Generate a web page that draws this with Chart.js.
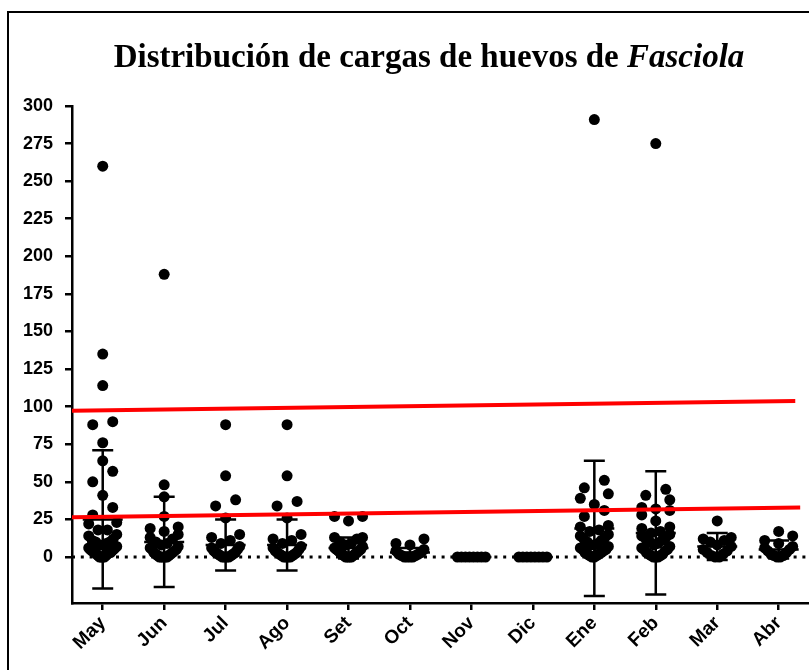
<!DOCTYPE html>
<html>
<head>
<meta charset="utf-8">
<script src="https://cdn.jsdelivr.net/npm/chart.js@4.4.0/dist/chart.umd.min.js"></script>
<style>
html, body { margin: 0; padding: 0; background: #fff; }
#wrap { position: relative; width: 809px; height: 670px; overflow: hidden; }
#frame { position: absolute; left: 7px; top: 11px; width: 860px; height: 700px; border: 2px solid #000; box-sizing: border-box; }
#title { position: absolute; left: 8px; width: 842px; top: 39px; text-align: center; font: bold 33px 'Liberation Serif', 'Times New Roman', serif; line-height: 34px; color: #000; }
canvas { position: absolute; left: 0; top: 0; }
</style>
</head>
<body>
<div id="wrap">
  <div id="frame"></div>
  <canvas id="c" width="816" height="670"></canvas>
  <div id="title">Distribución de cargas de huevos de <i>Fasciola</i></div>
</div>
<script>
// categories + values
const months = ['May', 'Jun', 'Jul', 'Ago', 'Set', 'Oct', 'Nov', 'Dic', 'Ene', 'Feb', 'Mar', 'Abr'];
const vMay = [260, 135, 114, 90, 88, 76, 64, 57, 50, 41, 33, 28, 23, 22, 18, 18, 15, 14, 12, 11, 10, 10, 9, 8, 8, 7, 6, 6, 5, 5, 4, 4, 4, 3, 3, 3, 2, 2, 1, 1, 0, 0, 0, 0];
const vJun = [188, 48, 40, 27, 20, 19, 17, 15, 13, 12, 10, 9, 8, 7, 6, 5, 5, 4, 3, 3, 2, 2, 1, 1, 0, 0, 0, 0, 0];
const vJul = [88, 54, 38, 34, 26, 15, 13, 11, 9, 7, 6, 5, 4, 3, 3, 2, 2, 1, 1, 0, 0, 0, 0];
const vAgo = [88, 54, 37, 34, 26, 15, 12, 11, 9, 7, 6, 5, 4, 3, 3, 2, 2, 1, 1, 0, 0, 0, 0];
const vSet = [27, 27, 24, 13, 13, 12, 10, 9, 8, 7, 6, 5, 5, 4, 4, 3, 3, 2, 2, 1, 1, 0, 0, 0, 0];
const vOct = [12, 9, 8, 5, 4, 3, 2, 2, 1, 1, 0, 0, 0, 0];
const vNov = [0, 0, 0, 0, 0, 0, 0, 0];
const vDic = [0, 0, 0, 0, 0, 0, 0, 0];
const vEne = [291, 51, 46, 42, 39, 35, 31, 27, 21, 20, 18, 17, 15, 14, 13, 12, 11, 10, 9, 8, 8, 7, 6, 5, 5, 4, 3, 3, 2, 2, 1, 1, 0, 0];
const vFeb = [275, 45, 41, 38, 33, 32, 31, 28, 24, 20, 19, 17, 16, 15, 14, 13, 12, 11, 10, 9, 8, 7, 6, 5, 5, 4, 3, 2, 2, 1, 1, 0, 0, 0];
const vMar = [24, 13, 12, 11, 10, 8, 7, 5, 4, 3, 2, 1, 0, 0];
const vAbr = [17, 14, 11, 9, 7, 6, 5, 4, 3, 2, 1, 1, 0, 0];
const groups = [vMay, vJun, vJul, vAgo, vSet, vOct, vNov, vDic, vEne, vFeb, vMar, vAbr];

// mean and SD as drawn in the figure
const means = [25, 10, 8, 8, 6, 3, 0, 0, 19, 16, 7, 5];
const sds = [46, 30, 17, 17, 7, 3, 0, 0, 45, 41, 9, 6];

const yTicks = [0, 25, 50, 75, 100, 125, 150, 175, 200, 225, 250, 275, 300];

// hand-drawn red lines: [start, end]
const redUpperX = [-0.5, 11.27];
const redUpperY = [97.3, 103.8];
const redLowerX = [-0.5, 11.35];
const redLowerY = [26.4, 33.0];

const PX_CAT = 61.45, PX_UNIT = 1.503;

// prism-like scatter: bin by height, spread each bin sideways, low values in the middle
function swarm(values, center) {
    const binH = 11, step = 20, maxOff = 14;
    const sorted = values.slice().sort((a, b) => a - b);
    const out = [];
    let i = 0;
    while (i < sorted.length) {
        const start = sorted[i];
        const bin = [];
        while (i < sorted.length && (sorted[i] - start) * PX_UNIT < binH) bin.push(sorted[i++]);
        const n = bin.length;
        const s = n > 1 ? Math.min(step, 2 * maxOff / (n - 1)) : 0;
        const slots = bin.map((_, j) => (j - (n - 1) / 2) * s).sort((a, b) => Math.abs(a) - Math.abs(b));
        bin.forEach((v, j) => out.push({ x: center + slots[j] / PX_CAT, y: v }));
    }
    return out;
}

const points = [];
groups.forEach((g, i) => points.push(...swarm(g, i)));

const errorBars = {
    id: 'errorBars',
    afterLayout(chart) {
        // keep category spacing like the original
        const xs = chart.scales.x;
        xs.max = xs.min + (xs.right - xs.left) / PX_CAT;
        xs.configure();
    },
    afterDatasetDraw(chart, args) {
        if (args.index !== 1) return;
        const { ctx, scales: { x, y } } = chart;
        ctx.save();
        ctx.strokeStyle = '#000';
        ctx.lineWidth = 2.5;
        means.forEach((m, i) => {
            const cx = x.getPixelForValue(i);
            const top = y.getPixelForValue(m + sds[i]);
            const bot = y.getPixelForValue(m - sds[i]);
            const my = y.getPixelForValue(m);
            ctx.beginPath();
            if (sds[i] > 0) {
                ctx.moveTo(cx, top); ctx.lineTo(cx, bot);
                ctx.moveTo(cx - 10.5, top); ctx.lineTo(cx + 10.5, top);
                ctx.moveTo(cx - 10.5, bot); ctx.lineTo(cx + 10.5, bot);
            }
            ctx.moveTo(cx - 20, my); ctx.lineTo(cx + 20, my);
            ctx.stroke();
        });
        ctx.restore();
    }
};

const yFont = { family: "'Liberation Sans', Arial, sans-serif", size: 18, weight: 'bold' };
const xFont = { family: "'Liberation Sans', Arial, sans-serif", size: 19, weight: 'bold' };

new Chart(document.getElementById('c'), {
    type: 'scatter',
    data: {
        datasets: [
            {
                type: 'line', order: 3,
                data: [{ x: -0.5, y: 0 }, { x: 12, y: 0 }],
                borderColor: '#000', borderWidth: 3, borderDash: [3, 5.8],
                pointRadius: 0
            },
            {
                order: 2,
                data: points,
                backgroundColor: '#000', borderWidth: 0,
                pointRadius: 5.5
            },
            {
                type: 'line', order: 1,
                data: redUpperX.map((x, i) => ({ x, y: redUpperY[i] })),
                borderColor: '#ff0000', borderWidth: 4, pointRadius: 0
            },
            {
                type: 'line', order: 1,
                data: redLowerX.map((x, i) => ({ x, y: redLowerY[i] })),
                borderColor: '#ff0000', borderWidth: 4, pointRadius: 0
            }
        ]
    },
    options: {
        responsive: false,
        animation: false,
        layout: { padding: { top: 106, left: 0, right: 0, bottom: 0 } },
        plugins: { legend: { display: false }, tooltip: { enabled: false } },
        scales: {
            x: {
                type: 'linear', min: -0.5, max: 11.5,
                afterBuildTicks: s => { s.ticks = months.map((m, i) => ({ value: i })); },
                afterFit: s => { s.height = 67; s.paddingRight = 0; s.paddingLeft = 0; },
                ticks: {
                    callback: v => months[v],
                    autoSkip: false, minRotation: 45, maxRotation: 45,
                    color: '#000', font: xFont, padding: 2
                },
                grid: { drawOnChartArea: false, drawTicks: true, tickLength: 7, color: '#000', lineWidth: 2.5 },
                border: { display: true, color: '#000', width: 2.5 }
            },
            y: {
                min: -30.6, max: 300,
                afterBuildTicks: s => { s.ticks = yTicks.map(v => ({ value: v })); },
                afterFit: s => { s.width = 72; },
                ticks: { color: '#000', font: yFont, padding: 12 },
                grid: { drawOnChartArea: false, drawTicks: true, tickLength: 7, color: '#000', lineWidth: 2.5 },
                border: { display: true, color: '#000', width: 2.5 }
            }
        }
    },
    plugins: [errorBars]
});
</script>
</body>
</html>
